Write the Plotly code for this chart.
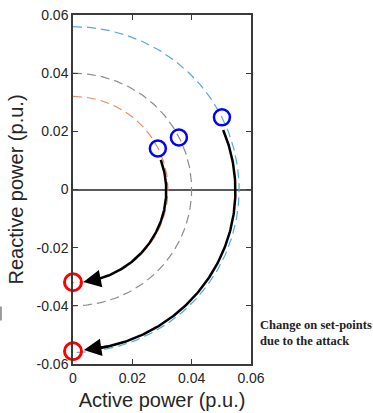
import numpy as np
import plotly.graph_objects as go

# ---- data ----
circle_radii = [0.056, 0.040, 0.032]
circle_colors = ["#5aa8dc", "#8c8c8c", "#ec8a66"]

before_p = [0.0502, 0.0357, 0.0286]
before_q = [0.0248, 0.0179, 0.0141]

after_p = [0.0, 0.0]
after_q = [-0.0319, -0.0556]

# trajectories (polar: start radius/angle, tip radius/angle in degrees)
traj_start_r = [0.0313, 0.0546]
traj_start_deg = [19.0, 22.0]
traj_tip_r = [0.0320, 0.0553]
traj_tip_deg = [-83.7, -86.2]

annot_text = "<b>Change on set-points<br>due to the attack</b>"

fig = go.Figure()

# dashed capability circles
for r, c in zip(circle_radii, circle_colors):
    th = np.radians(np.linspace(90, -90, 200))
    fig.add_trace(go.Scatter(x=r * np.cos(th), y=r * np.sin(th), mode="lines",
                             line=dict(color=c, width=1.2, dash="9px,5px"),
                             hoverinfo="skip", showlegend=False))

# trajectories with arrowheads
for r0, a0, r1, a1 in zip(traj_start_r, traj_start_deg, traj_tip_r, traj_tip_deg):
    a_stop = a1 + 5
    ang = np.linspace(a0, a_stop, 150)
    rr = r0 + (r1 - r0) * (ang - a0) / (a1 - a0)
    th = np.radians(ang)
    fig.add_trace(go.Scatter(x=rr * np.cos(th), y=rr * np.sin(th), mode="lines",
                             line=dict(color="black", width=2.5),
                             hoverinfo="skip", showlegend=False))
    ta = np.radians(a1)
    sa = np.radians(a1 + 9)
    rs = r0 + (r1 - r0) * (a1 + 9 - a0) / (a1 - a0)
    fig.add_annotation(x=r1 * np.cos(ta), y=r1 * np.sin(ta),
                       ax=rs * np.cos(sa), ay=rs * np.sin(sa),
                       xref="x", yref="y", axref="x", ayref="y",
                       text="", showarrow=True, arrowhead=2, arrowsize=1.4,
                       arrowwidth=2.5, arrowcolor="black", standoff=0)

fig.add_trace(go.Scatter(x=before_p, y=before_q, mode="markers",
                         marker=dict(symbol="circle-open", size=16, color="#0000ff",
                                     line=dict(width=2.5, color="#0000ff")),
                         cliponaxis=False, hoverinfo="skip", showlegend=False))
fig.add_trace(go.Scatter(x=after_p, y=after_q, mode="markers",
                         marker=dict(symbol="circle-open", size=17, color="#ff0000",
                                     line=dict(width=3, color="#ff0000")),
                         cliponaxis=False, hoverinfo="skip", showlegend=False))

fig.add_annotation(x=1.04, y=0.088, xref="paper", yref="paper", xanchor="left",
                   yanchor="middle", align="left", showarrow=False, text=annot_text,
                   font=dict(family="Liberation Serif", size=12.5, color="#222222"))

# small stray mark at left edge
fig.add_shape(type="line", xref="paper", yref="paper", x0=-0.405, x1=-0.405,
              y0=0.125, y1=0.165, line=dict(color="#9a9a9a", width=2))

axis_common = dict(showline=True, linecolor="#3a3a3a", linewidth=1.5, mirror="ticks",
                   ticks="inside", ticklen=5, tickwidth=1, tickcolor="#3a3a3a",
                   showgrid=False, automargin=False,
                   tickfont=dict(family="Liberation Sans", size=14, color="#262626"),
                   title_font=dict(family="Liberation Sans", size=20, color="#262626"))

fig.update_xaxes(range=[0, 0.06], tickvals=[0, 0.02, 0.04, 0.06],
                 ticktext=["0", "0.02", "0.04", "0.06"], zeroline=False,
                 title_text="Active power (p.u.)", title_standoff=8, **axis_common)
fig.update_yaxes(range=[-0.06, 0.06], tickvals=[-0.06, -0.04, -0.02, 0, 0.02, 0.04, 0.06],
                 ticktext=["-0.06", "-0.04", "-0.02", "0", "0.02", "0.04", "0.06"],
                 zeroline=True, zerolinecolor="#5a5a5a", zerolinewidth=1.5,
                 title_text="Reactive power (p.u.)", title_standoff=8, **axis_common)

fig.update_layout(width=373, height=413, margin=dict(l=73, r=122, t=15, b=49, autoexpand=False),
                  plot_bgcolor="white", paper_bgcolor="white")

fig.write_html("out.html", config={"displayModeBar": False},
               post_script="document.body.style.margin='0';")
